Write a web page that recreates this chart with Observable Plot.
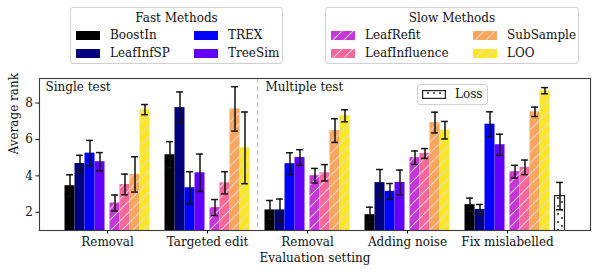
<!DOCTYPE html>
<html>
<head>
<meta charset="utf-8">
<script src="https://cdn.jsdelivr.net/npm/d3@7"></script>
<script src="https://cdn.jsdelivr.net/npm/@observablehq/plot@0.6"></script>
<style>
  body { margin: 0; background: #fff; font-family: "DejaVu Serif", serif; }
  #wrap { position: relative; width: 598px; height: 274px; }
  .leg { position: absolute; border: 1px solid #d0d0d0; border-radius: 3px; background: #fff; box-sizing: border-box; font-size: 12px; color: #111; }
  .leg .t { position: absolute; left: 0; right: 0; text-align: center; top: 3px; }
  .leg .sw { position: absolute; width: 24px; height: 9px; }
  .leg .lb { position: absolute; line-height: 14px; }
</style>
</head>
<body>
<div id="wrap"></div>
<script>
// ---- data ----
const settings = ["Removal", "Targeted edit", "Removal", "Adding noise", "Fix mislabelled"];
const panels = ["Single test", "Multiple test"];
const methods = ["BoostIn", "LeafInfSP", "TREX", "TreeSim", "LeafRefit", "LeafInfluence", "SubSample", "LOO"];
const colors = ["#000000", "#00007f", "#0000ff", "#6200ff", "#c535d7", "#f7679b", "#fca55d", "#fde724"];
const fastMethods = ["BoostIn", "LeafInfSP", "TREX", "TreeSim"];
const slowMethods = ["LeafRefit", "LeafInfluence", "SubSample", "LOO"];

const boostInMean = [3.46, 5.16, 2.13, 1.87, 2.42];
const boostInErr = [0.60, 0.72, 0.52, 0.41, 0.36];
const leafInfSPMean = [4.68, 7.75, 2.13, 3.63, 2.16];
const leafInfSPErr = [0.45, 0.86, 0.60, 0.72, 0.27];
const trexMean = [5.25, 3.35, 4.67, 3.15, 6.84];
const trexErr = [0.70, 0.88, 0.60, 0.43, 0.68];
const treeSimMean = [4.78, 4.17, 5.01, 3.64, 5.71];
const treeSimErr = [0.50, 1.03, 0.43, 0.68, 0.58];
const leafRefitMean = [2.51, 2.26, 4.01, 5.00, 4.23];
const leafRefitErr = [0.44, 0.44, 0.40, 0.37, 0.35];
const leafInfluenceMean = [3.53, 3.62, 4.17, 5.23, 4.47];
const leafInfluenceErr = [0.57, 0.61, 0.45, 0.27, 0.40];
const subSampleMean = [4.08, 7.68, 6.49, 6.93, 7.52];
const subSampleErr = [0.97, 1.22, 0.65, 0.57, 0.26];
const looMean = [7.64, 5.54, 7.30, 6.51, 8.68];
const looErr = [0.28, 1.97, 0.33, 0.48, 0.17];
const lossMean = [2.89];   // only "Fix mislabelled"
const lossErr = [0.75];
const lossGroup = [4];

const means = [boostInMean, leafInfSPMean, trexMean, treeSimMean, leafRefitMean, leafInfluenceMean, subSampleMean, looMean];
const errs = [boostInErr, leafInfSPErr, trexErr, treeSimErr, leafRefitErr, leafInfluenceErr, subSampleErr, looErr];
const yTicks = [2, 4, 6, 8];

// ---- layout helpers (bar slot within group) ----
const barW = 0.1;
const slot = i => -0.425 + i * barW + (i >= 4 ? 0.05 : 0) + (i >= 8 ? 0.05 : 0);

const rows = [];
methods.forEach((m, i) => {
  settings.forEach((s, g) => {
    const x1 = g + slot(i);
    rows.push({method: m, i, g, mean: means[i][g], err: errs[i][g], x1, x2: x1 + barW, xc: x1 + barW / 2, color: colors[i]});
  });
});
const lossRows = lossMean.map((v, k) => {
  const x1 = lossGroup[k] + slot(8);
  return {mean: v, err: lossErr[k], x1, x2: x1 + barW, xc: x1 + barW / 2};
});
const allRows = rows.concat(lossRows);
const slowRows = rows.filter(d => d.i >= 4);

const chart = Plot.plot({
  width: 598,
  height: 274,
  marginLeft: 39,
  marginRight: 8,
  marginTop: 78,
  marginBottom: 44,
  style: {fontFamily: "DejaVu Serif", fontSize: "12px", color: "#111", background: "transparent"},
  x: {domain: [-0.68, 4.83]},
  y: {domain: [1, 9.35]},
  marks: [
    Plot.ruleX([1.5], {stroke: "#c8c8c8", strokeWidth: 1.3, strokeDasharray: "5,3"}),
    Plot.rectY(rows, {x1: "x1", x2: "x2", y1: 0, y2: "mean", fill: "color", clip: true}),
    Plot.rectY(slowRows, {x1: "x1", x2: "x2", y1: 0, y2: "mean", fill: "url(#hatchSlash)", clip: true}),
    Plot.rectY(lossRows, {x1: "x1", x2: "x2", y1: 0, y2: "mean", fill: "url(#hatchDots)", stroke: "#222", strokeWidth: 1.2, clip: true}),
    Plot.ruleX(allRows, {x: "xc", y1: d => d.mean - d.err, y2: d => d.mean + d.err, stroke: "#111", strokeWidth: 1.5}),
    Plot.ruleY(allRows, {y: d => d.mean - d.err, x1: d => d.xc - 0.034, x2: d => d.xc + 0.034, stroke: "#111", strokeWidth: 1.5}),
    Plot.ruleY(allRows, {y: d => d.mean + d.err, x1: d => d.xc - 0.034, x2: d => d.xc + 0.034, stroke: "#111", strokeWidth: 1.5}),
    Plot.frame({stroke: "#3a3a3a", strokeWidth: 1.1}),
    Plot.axisY({ticks: yTicks, tickSize: 3.5, tickPadding: 3, label: null, fontSize: 12}),
    Plot.axisX({ticks: [0, 1, 2, 3, 4], tickFormat: i => settings[i], tickSize: 3.5, tickPadding: 3, label: null, fontSize: 12}),
    Plot.text([panels[0]], {text: d => d, frameAnchor: "top-left", textAnchor: "start", lineAnchor: "top", dx: 6, dy: 4, fontSize: 12}),
    Plot.text([panels[1]], {text: d => d, x: 1.5, frameAnchor: "top", textAnchor: "start", lineAnchor: "top", dx: 8, dy: 4, fontSize: 12}),
    Plot.text(["Evaluation setting"], {text: d => d, frameAnchor: "bottom", lineAnchor: "middle", dy: 28, fontSize: 12}),
    Plot.text(["Average rank"], {text: d => d, frameAnchor: "left", rotate: -90, lineAnchor: "middle", dx: -25, fontSize: 12})
  ]
});

// patterns
const ns = "http://www.w3.org/2000/svg";
const defs = document.createElementNS(ns, "defs");
defs.innerHTML = `
  <pattern id="hatchSlash" patternUnits="userSpaceOnUse" width="11" height="11">
    <path d="M-1,1 l2,-2 M0,11 l11,-11 M10,12 l2,-2" stroke="#dcdcdc" stroke-width="1.1" stroke-opacity="0.9"/>
  </pattern>
  <pattern id="hatchDots" patternUnits="userSpaceOnUse" width="8" height="8">
    <rect width="8" height="8" fill="#fff"/>
    <circle cx="2" cy="2" r="0.9" fill="#111"/>
    <circle cx="6" cy="6" r="0.9" fill="#111"/>
  </pattern>`;
chart.insertBefore(defs, chart.firstChild);

const wrap = document.getElementById("wrap");
wrap.appendChild(chart);

// ---- legends (HTML) ----
function swatchSVG(color, hatched) {
  let inner = `<rect x="0" y="0" width="24" height="9" fill="${color}"/>`;
  if (hatched) inner += `<rect x="0" y="0" width="24" height="9" fill="url(#hatchSlash)"/>`;
  return `<svg width="24" height="9" style="display:block">${inner}</svg>`;
}
function makeLegend(title, names, left, width, col2Swatch, hatched) {
  const div = document.createElement("div");
  div.className = "leg";
  div.style.left = left + "px";
  div.style.top = "7px";
  div.style.width = width + "px";
  div.style.height = "57px";
  let html = `<div class="t">${title}</div>`;
  names.forEach((n, k) => {
    const col = k % 2 === 0 ? 0 : 1;
    const row = Math.floor(k / 2);
    const sx = col === 0 ? 5 : col2Swatch;
    const cy = 27 + row * 18;
    const color = colors[methods.indexOf(n)];
    html += `<div class="sw" style="left:${sx}px;top:${cy - 4.5}px">${swatchSVG(color, hatched)}</div>`;
    html += `<div class="lb" style="left:${sx + 34}px;top:${cy - 7}px">${n}</div>`;
  });
  div.innerHTML = html;
  wrap.appendChild(div);
}
// order: column-wise like matplotlib ncol=2
makeLegend("Fast Methods", [fastMethods[0], fastMethods[2], fastMethods[1], fastMethods[3]], 70, 213, 123, false);
makeLegend("Slow Methods", [slowMethods[0], slowMethods[2], slowMethods[1], slowMethods[3]], 325, 254, 147, true);

// Loss legend
const lossDiv = document.createElement("div");
lossDiv.className = "leg";
lossDiv.style.left = "417px";
lossDiv.style.top = "84px";
lossDiv.style.width = "71px";
lossDiv.style.height = "21px";
lossDiv.innerHTML = `<div class="sw" style="left:4px;top:5px"><svg width="24" height="9" style="display:block"><rect x="0.6" y="0.6" width="22.8" height="7.8" fill="#fff" stroke="#222" stroke-width="1.2"/><circle cx="6" cy="3" r="0.9" fill="#111"/><circle cx="12" cy="3" r="0.9" fill="#111"/><circle cx="18" cy="3" r="0.9" fill="#111"/></svg></div><div class="lb" style="left:37px;top:2px">Loss</div>`;
wrap.appendChild(lossDiv);
</script>
</body>
</html>
